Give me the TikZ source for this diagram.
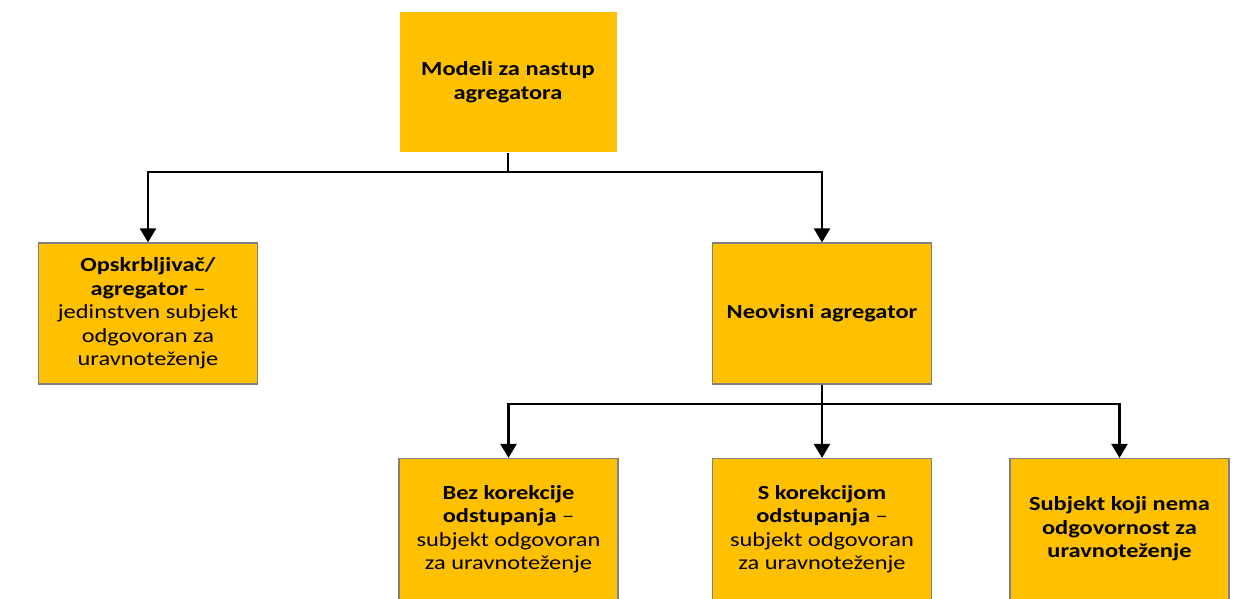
\documentclass[tikz,border=0pt]{standalone}
\usepackage{fontspec}
\setmainfont{Carlito}[FakeStretch=1.22]
\usetikzlibrary{arrows.meta,positioning}
\definecolor{boxyellow}{HTML}{FFC000}
\definecolor{boxedge}{HTML}{808080}
\tikzstyle{bx} = [rectangle,fill=boxyellow,draw=boxedge,line width=1.2pt,minimum width=219pt,minimum height=141pt,align=center,font=\fontsize{20}{23.5}\selectfont]
\tikzstyle{tp} = [bx,draw=none,minimum width=217pt,minimum height=140pt]
\tikzstyle{arr} = [line width=2.4pt,-{Triangle[width=16pt,length=14pt]}]
\tikzstyle{ln} = [line width=2.4pt]

\begin{document}
\begin{tikzpicture}[x=1pt,y=-1pt]
  \useasboundingbox (0,0) rectangle (1256,598);
  \clip (0,0) rectangle (1256,598);
  \node[tp](modeli) at (508,82) {\textbf{Modeli za nastup}\\\textbf{agregatora}};
  \node[bx](opskrb) at (148,313.5) {\textbf{Opskrbljivač/}\\\textbf{agregator} --\\jedinstven subjekt\\odgovoran za\\uravnoteženje};
  \node[bx](neovisni) at (822,313.5) {\textbf{Neovisni agregator}};
  \node[bx](bez) at (508.5,529) {\textbf{Bez korekcije}\\\textbf{odstupanja} --\\subjekt odgovoran\\za uravnoteženje};
  \node[bx](skor) at (822,529) {\textbf{S korekcijom}\\\textbf{odstupanja} --\\subjekt odgovoran\\za uravnoteženje};
  \node[bx](subj) at (1119.5,529) {\textbf{Subjekt koji nema}\\\textbf{odgovornost za}\\\textbf{uravnoteženje}};
  % first level
  \coordinate (j1) at (508,172);
  \draw[ln] (modeli) -- (j1);
  \draw[arr] (j1) -| (opskrb);
  \draw[arr] (j1) -| (neovisni);
  % second level
  \coordinate (j2) at (822,404);
  \draw[ln] (neovisni) -- (j2);
  \draw[arr] (j2) -| (bez);
  \draw[arr] (j2) -- (skor);
  \draw[arr] (j2) -| (subj);
\end{tikzpicture}
\end{document}
